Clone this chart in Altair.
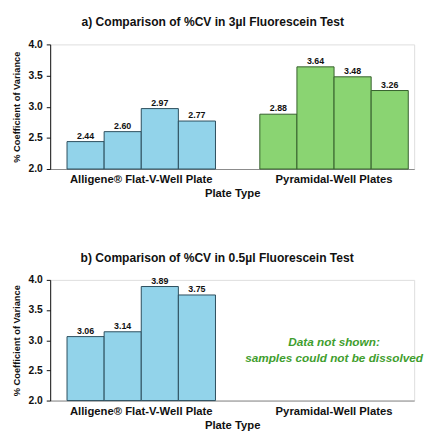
import altair as alt
import pandas as pd

groups = ["Alligene® Flat-V-Well Plate", "Pyramidal-Well Plates"]
bar_index = [1, 2, 3, 4]
a_blue = [2.44, 2.60, 2.97, 2.77]
a_green = [2.88, 3.64, 3.48, 3.26]
b_blue = [3.06, 3.14, 3.89, 3.75]
y_ticks = [2.0, 2.5, 3.0, 3.5, 4.0]
title_a = "a) Comparison of %CV in 3µl Fluorescein Test"
title_b = "b) Comparison of %CV in 0.5µl Fluorescein Test"
note_lines = ["Data not shown:", "samples could not be dissolved"]

fills = ["#92d3ea", "#8ad472"]
strokes = ["#2b4d5c", "#355f2c"]
FONT = "Liberation Sans"

def make_df(blue, green):
    rows = []
    for i, v in zip(bar_index, blue):
        rows.append({"group": groups[0], "idx": i, "value": v})
    for i, v in zip(bar_index, green):
        rows.append({"group": groups[1], "idx": i, "value": v})
    return pd.DataFrame(rows)

xscale = alt.Scale(domain=groups, paddingInner=0.23, paddingOuter=0.059, align=0.74)
yscale = alt.Scale(domain=[2.0, 4.0], nice=False, zero=False)

x_axis = alt.Axis(title="Plate Type", labelAngle=0, ticks=False,
                  domainColor="#8a8a8a", labelFontWeight="bold",
                  labelFontSize=11.5, labelFont=FONT, labelColor="#111",
                  titleFont=FONT, titleFontSize=11.5, titleFontWeight="bold",
                  titleColor="#111", labelPadding=5, titlePadding=3)
y_axis = alt.Axis(title="% Coefficient of Variance", values=y_ticks,
                  format=".1f", grid=False, domainColor="#111",
                  tickColor="#111", tickSize=4, labelFontWeight="bold",
                  labelFont=FONT, labelFontSize=10.5, labelColor="#111",
                  labelOverlap=False, labelPadding=4,
                  titleFont=FONT, titleFontSize=9.5, titleFontWeight="bold",
                  titleColor="#111", titlePadding=7)

def panel(df, title, h, with_note=False):
    x = alt.X("group:N", scale=xscale, sort=groups, axis=x_axis)
    y = alt.Y("value:Q", scale=yscale, axis=y_axis)
    xo = alt.XOffset("idx:O", scale=alt.Scale(paddingInner=0, paddingOuter=0))
    color = alt.Color("group:N", scale=alt.Scale(domain=groups, range=fills), legend=None)
    stroke = alt.Stroke("group:N", scale=alt.Scale(domain=groups, range=strokes), legend=None)
    base = alt.Chart(df)
    bars = base.mark_bar(strokeWidth=1).encode(
        x=x, xOffset=xo, y=y, y2=alt.datum(2.0), color=color, stroke=stroke)
    labels = base.mark_text(dy=-6, fontSize=9, fontWeight="bold", font=FONT,
                            color="#111").encode(
        x=x, xOffset=xo, y=y,
        text=alt.Text("value:Q", format=".2f"))
    layers = [bars, labels]
    if with_note:
        note_df = pd.DataFrame({"group": [groups[1]], "value": [2.97],
                                "txt": ["\n".join(note_lines)]})
        note = alt.Chart(note_df).mark_text(
            fontSize=12, fontWeight="bold", fontStyle="italic", font=FONT,
            color="#3f9e2e", lineBreak="\n", lineHeight=16).encode(
            x=x, y=y, text="txt:N")
        layers.append(note)
    return alt.layer(*layers).properties(
        width=371, height=h,
        title=alt.TitleParams(title, font=FONT, fontSize=12.3, fontWeight="bold",
                              color="#111", anchor="middle", frame="bounds",
                              offset=11))

chart_a = panel(make_df(a_blue, a_green), title_a, 127)
chart_b = panel(make_df(b_blue, []), title_b, 123, with_note=True)

chart = alt.vconcat(chart_a, chart_b, spacing=52).configure_view(
    stroke=None).configure(background="white",
                           padding={"left": 2, "top": 4, "right": 0, "bottom": 0})

chart.save("out.html", embed_options={"renderer": "svg", "actions": False})
